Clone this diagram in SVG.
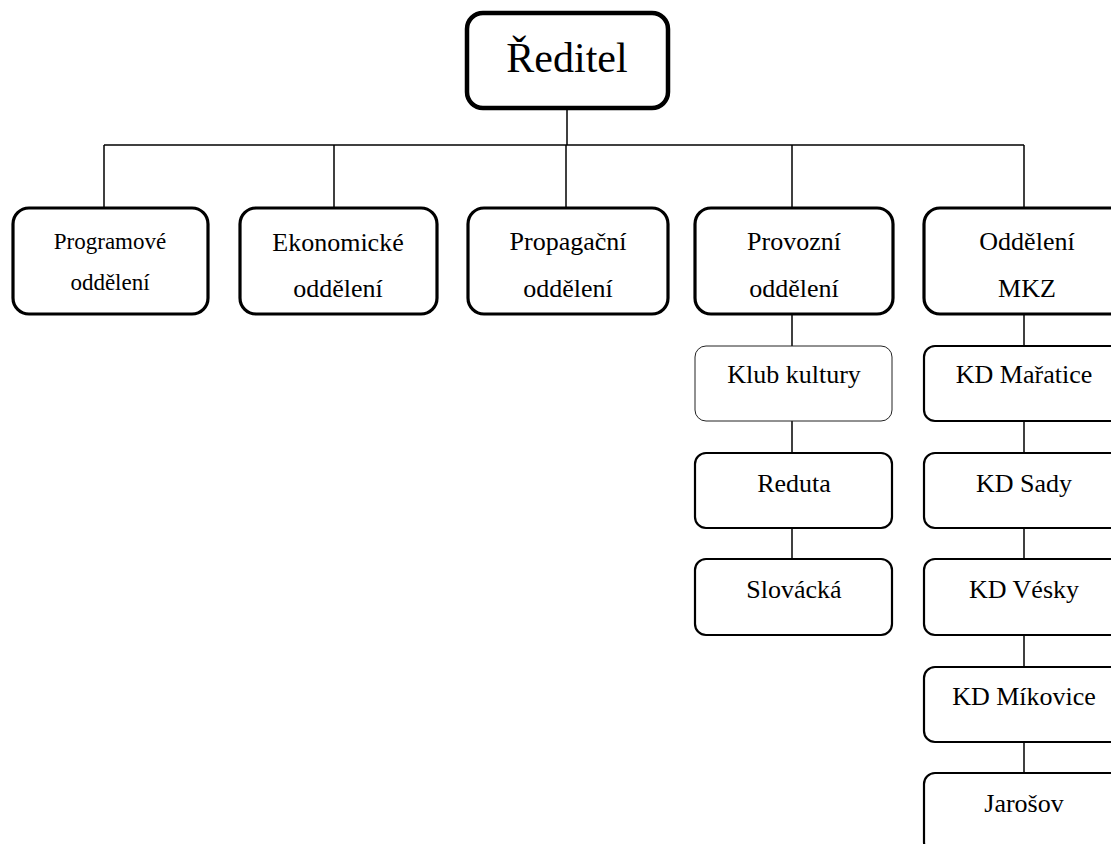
<svg xmlns="http://www.w3.org/2000/svg" width="1111" height="844" viewBox="0 0 1111 844">
<style>
text{font-family:"Liberation Serif","Times New Roman",serif;fill:#000;text-anchor:middle}
.t26{font-size:26px}
.t23{font-size:23px}
.top{fill:#fff;stroke:#000;stroke-width:4.5}
.mid{fill:#fff;stroke:#000;stroke-width:3.2}
.low{fill:#fff;stroke:#000;stroke-width:2.2}
.thin{fill:#fff;stroke:#222;stroke-width:1}
.c{stroke:#000;stroke-width:1.5;fill:none}
</style>
<rect width="1111" height="844" fill="#fff"/>
<g id="connectors">
<line class="c" x1="567" y1="108" x2="567" y2="145"/>
<line class="c" x1="104" y1="145" x2="1024" y2="145"/>
<line class="c" x1="104" y1="145" x2="104" y2="208"/>
<line class="c" x1="334" y1="145" x2="334" y2="208"/>
<line class="c" x1="566" y1="145" x2="566" y2="208"/>
<line class="c" x1="792" y1="145" x2="792" y2="208"/>
<line class="c" x1="1024" y1="145" x2="1024" y2="208"/>
<line class="c" x1="792" y1="314" x2="792" y2="346"/>
<line class="c" x1="792" y1="421" x2="792" y2="453"/>
<line class="c" x1="792" y1="528" x2="792" y2="559"/>
<line class="c" x1="1024" y1="314" x2="1024" y2="346"/>
<line class="c" x1="1024" y1="421" x2="1024" y2="453"/>
<line class="c" x1="1024" y1="528" x2="1024" y2="559"/>
<line class="c" x1="1024" y1="635" x2="1024" y2="667"/>
<line class="c" x1="1024" y1="742" x2="1024" y2="773"/>
</g>
<g id="reditel">
<rect class="top" x="467" y="13" width="201" height="95" rx="16"/>
<text x="567" y="72" font-size="42">Ředitel</text>
</g>
<g id="programove">
<rect class="mid" x="13" y="208" width="195" height="106" rx="16"/>
<text class="t23" x="110" y="249">Programové</text>
<text class="t23" x="110" y="290">oddělení</text>
</g>
<g id="ekonomicke">
<rect class="mid" x="240" y="208" width="197" height="106" rx="16"/>
<text class="t26" x="338" y="251">Ekonomické</text>
<text class="t26" x="338" y="297">oddělení</text>
</g>
<g id="propagacni">
<rect class="mid" x="468" y="208" width="200" height="106" rx="16"/>
<text class="t26" x="568" y="250">Propagační</text>
<text class="t26" x="568" y="297">oddělení</text>
</g>
<g id="provozni">
<rect class="mid" x="695" y="208" width="198" height="106" rx="16"/>
<text class="t26" x="794" y="250">Provozní</text>
<text class="t26" x="794" y="297">oddělení</text>
</g>
<g id="mkz">
<rect class="mid" x="924" y="208" width="205" height="106" rx="16"/>
<text class="t26" x="1027" y="250">Oddělení</text>
<text class="t26" x="1027" y="297">MKZ</text>
</g>
<g id="klub">
<rect class="thin" x="695" y="346" width="197" height="75" rx="11"/>
<text class="t26" x="794" y="383">Klub kultury</text>
</g>
<g id="reduta">
<rect class="low" x="695" y="453" width="197" height="75" rx="11"/>
<text class="t26" x="794" y="492">Reduta</text>
</g>
<g id="slovacka">
<rect class="low" x="695" y="559" width="197" height="76" rx="11"/>
<text class="t26" x="794" y="598">Slovácká</text>
</g>
<g id="maratice">
<rect class="low" x="924" y="346" width="205" height="75" rx="11"/>
<text class="t26" x="1024" y="383">KD Mařatice</text>
</g>
<g id="sady">
<rect class="low" x="924" y="453" width="205" height="75" rx="11"/>
<text class="t26" x="1024" y="492">KD Sady</text>
</g>
<g id="vesky">
<rect class="low" x="924" y="559" width="205" height="76" rx="11"/>
<text class="t26" x="1024" y="598">KD Vésky</text>
</g>
<g id="mikovice">
<rect class="low" x="924" y="667" width="205" height="75" rx="11"/>
<text class="t26" x="1024" y="705">KD Míkovice</text>
</g>
<g id="jarosov">
<rect class="low" x="924" y="773" width="205" height="80" rx="11"/>
<text class="t26" x="1024" y="812">Jarošov</text>
</g>
</svg>
